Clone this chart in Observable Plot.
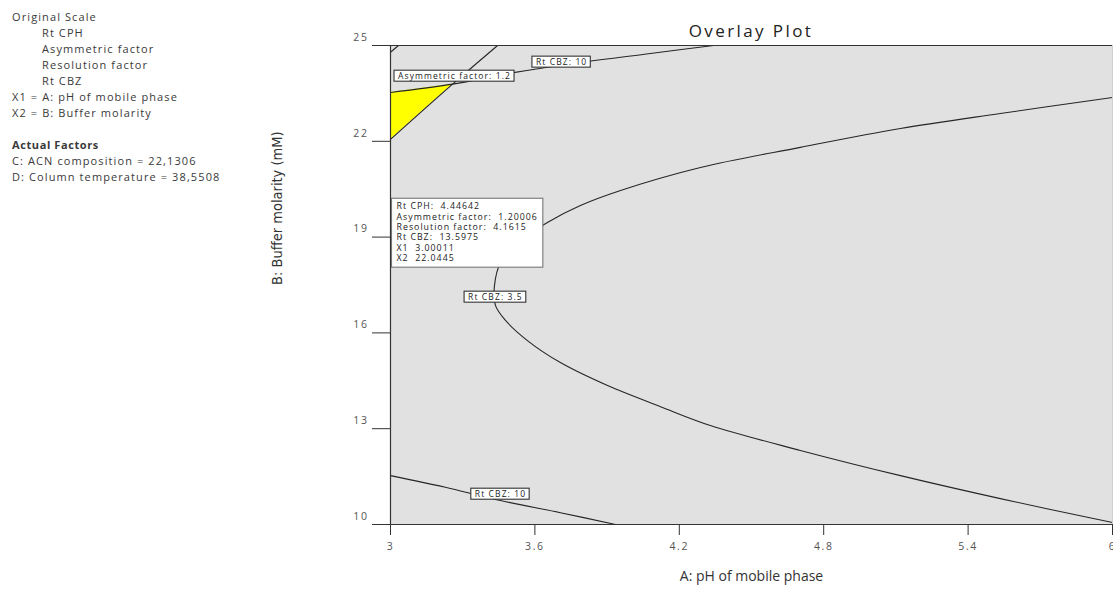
<!DOCTYPE html>
<html>
<head>
<meta charset="utf-8">
<script src="https://cdn.jsdelivr.net/npm/d3@7"></script>
<script src="https://cdn.jsdelivr.net/npm/@observablehq/plot@0.6"></script>
<style>
  html, body { margin: 0; padding: 0; background: #fff; }
  #wrap { position: relative; width: 1113px; height: 591px; overflow: hidden; font-family: "Open Sans", sans-serif; }
  #legend { position: absolute; left: 12px; top: 9px; font-size: 11px; line-height: 16px; color: #3a3a3a; letter-spacing: 1.1px; white-space: pre; }
  #legend .ind { padding-left: 30px; }
  #legend .b { font-weight: bold; letter-spacing: 0.6px; }
  #title { position: absolute; left: 390px; width: 722px; top: 20px; text-align: center; font-size: 17px; line-height: 22px; color: #222; letter-spacing: 2.4px; }
  #chart { position: absolute; left: 0; top: 0; }
  g[aria-label="x-axis tick label"] text, g[aria-label="y-axis tick label"] text { letter-spacing: 1.6px; }
</style>
</head>
<body>
<div id="wrap">
  <div id="legend"></div>
  <div id="title"></div>
  <div id="chart"></div>
</div>
<script>
// ---- Data ----
const titleText = "Overlay Plot";
const legendLines = ["Original Scale"];
const legendResponses = ["Rt CPH", "Asymmetric factor", "Resolution factor", "Rt CBZ"];
const legendAxes = ["X1 = A: pH of mobile phase", "X2 = B: Buffer molarity"];
const actualFactorsTitle = "Actual Factors";
const actualFactors = ["C: ACN composition = 22,1306", "D: Column temperature = 38,5508"];

const xLabel = "A: pH of mobile phase";
const yLabel = "B: Buffer molarity (mM)";
const xDomain = [3, 6];
const yDomain = [10, 25];
const xTicks = [3, 3.6, 4.2, 4.8, 5.4, 6];
const yTicks = [10, 13, 16, 19, 22, 25];

// Rt CBZ = 3.5 contour
const cbz35X = [6.0, 5.534, 5.119, 4.703, 4.288, 3.956, 3.789, 3.652, 3.540, 3.457, 3.432, 3.436, 3.478, 3.569, 3.706, 3.902, 4.122, 4.329, 4.703, 5.119, 5.534, 6.0];
const cbz35Y = [23.37, 22.87, 22.40, 21.81, 21.18, 20.46, 19.99, 19.46, 18.89, 18.20, 17.48, 16.86, 16.39, 15.76, 15.07, 14.35, 13.69, 13.10, 12.32, 11.53, 10.81, 10.06];
// Rt CBZ = 10 contour (upper)
const cbz10UpX = [3.0, 3.258, 3.511, 3.789, 4.080, 4.342];
const cbz10UpY = [23.53, 23.79, 24.15, 24.47, 24.75, 25.0];
// Rt CBZ = 10 contour (lower)
const cbz10LoX = [3.0, 3.249, 3.457, 3.706, 3.935];
const cbz10LoY = [11.53, 11.13, 10.75, 10.37, 10.0];
// Asymmetric factor = 1.2 contour
const asymX = [3.0, 3.258, 3.445];
const asymY = [22.06, 23.79, 25.0];
// small contour in the top-left corner
const cornerX = [3.0, 3.033];
const cornerY = [24.79, 25.0];
// feasible (yellow) design space
const yellowX = [3.0, 3.258];
const yellowLow = [22.06, 23.79];
const yellowHigh = [23.53, 23.79];

// contour labels
const labelTexts = ["Asymmetric factor: 1.2", "Rt CBZ: 10", "Rt CBZ: 3.5", "Rt CBZ: 10"];
const labelX = [3.266, 3.711, 3.436, 3.457];
const labelY = [24.03, 24.47, 17.11, 10.94];

// flag / tooltip
const flagX1 = 3.00011;
const flagX2 = 22.0445;
const tooltipLines = ["Rt CPH:  4.44642", "Asymmetric factor:  1.20006", "Resolution factor:  4.1615", "Rt CBZ:  13.5975", "X1  3.00011", "X2  22.0445"];

// ---- Build HTML text ----
const legend = document.getElementById("legend");
const addLine = (t, cls) => { const d = document.createElement("div"); d.textContent = t || "\u00a0"; if (cls) d.className = cls; legend.appendChild(d); };
legendLines.forEach(t => addLine(t));
legendResponses.forEach(t => addLine(t, "ind"));
legendAxes.forEach(t => addLine(t));
addLine("");
addLine(actualFactorsTitle, "b");
actualFactors.forEach(t => addLine(t));
document.getElementById("title").textContent = titleText;

// ---- Tables ----
const toPts = (xs, ys) => xs.map((x, i) => ({x, y: ys[i]}));
const lines = [toPts(cbz35X, cbz35Y), toPts(cbz10UpX, cbz10UpY), toPts(cbz10LoX, cbz10LoY), toPts(asymX, asymY), toPts(cornerX, cornerY)];
const yellow = yellowX.map((x, i) => ({x, y1: yellowLow[i], y2: yellowHigh[i]}));
const labels = labelTexts.map((t, i) => ({t, x: labelX[i], y: labelY[i]}));

const lineColor = "#262626";
const chart = Plot.plot({
  width: 1113,
  height: 591,
  marginLeft: 390,
  marginRight: 1,
  marginTop: 45,
  marginBottom: 67,
  style: {fontFamily: "Open Sans", background: "transparent", color: "#444"},
  x: {domain: xDomain, label: null},
  y: {domain: yDomain, label: null},
  marks: [
    Plot.frame({fill: "#e1e1e1", stroke: null}),
    Plot.areaY(yellow, {x: "x", y1: "y1", y2: "y2", fill: "#ffff00", curve: "linear"}),
    ...lines.map(pts => Plot.line(pts, {x: "x", y: "y", stroke: lineColor, strokeWidth: 1.1, curve: "catmull-rom"})),
    Plot.ruleX([xDomain[0]], {stroke: "#333", strokeWidth: 1.2}),
    Plot.ruleY([yDomain[0], yDomain[1]], {stroke: "#333", strokeWidth: 1.2}),
    Plot.ruleX([xDomain[1]], {stroke: "#cfcfcf", strokeWidth: 1}),
    Plot.axisX({ticks: xTicks, tickSize: 11, tickPadding: 7, tickFormat: d => String(d), fontSize: 10.5, stroke: "#333", fill: "#555"}),
    Plot.axisY({ticks: yTicks, tickSize: 18, tickFormat: () => "", stroke: "#333"}),
    Plot.axisY({ticks: yTicks, tickSize: 0, tickPadding: 22, dy: -8, tickFormat: d => String(d), fontSize: 10.5, fill: "#555"}),
    Plot.text(labels, {x: "x", y: "y", text: "t", fontSize: 8.5, fill: "#222"}),
    Plot.text([tooltipLines.join("\n")], {x: () => flagX1, y: () => flagX2, text: d => d, textAnchor: "start", lineAnchor: "top", dx: 6, dy: 62, fontSize: 8.8, lineHeight: 1.18, fill: "#222"}),
    Plot.text([xLabel], {frameAnchor: "bottom", dy: 56, fontSize: 14, fill: "#333"}),
    Plot.text([yLabel], {frameAnchor: "left", rotate: -90, dx: -113, fontSize: 14.5, fill: "#333", fontFamily: "DejaVu Sans Condensed, Roboto, sans-serif"})
  ]
});
document.getElementById("chart").appendChild(chart);

// boxes behind contour labels and the flag tooltip
const labelSet = new Set(labelTexts);
const tooltipKey = tooltipLines[0].replace(/\s+/g, "");
const svgNS = "http://www.w3.org/2000/svg";
function boxify(t, pad, stroke, spacing) {
  t.style.whiteSpace = "pre";
  t.style.letterSpacing = spacing;
  t.setAttributeNS("http://www.w3.org/XML/1998/namespace", "xml:space", "preserve");
  const b = t.getBBox();
  const r = document.createElementNS(svgNS, "rect");
  r.setAttribute("x", b.x - pad[3]);
  r.setAttribute("y", b.y - pad[0]);
  r.setAttribute("width", b.width + pad[1] + pad[3]);
  r.setAttribute("height", b.height + pad[0] + pad[2]);
  r.setAttribute("fill", "#ffffff");
  r.setAttribute("stroke", stroke);
  r.setAttribute("stroke-width", "1.1");
  const tr = t.getAttribute("transform");
  if (tr) r.setAttribute("transform", tr);
  t.parentNode.insertBefore(r, t);
}
Array.from(chart.querySelectorAll("text")).forEach(t => {
  const s = t.textContent;
  if (labelSet.has(s)) boxify(t, [0, 3, 0, 4], "#333", "1.1px");
  else if (s.replace(/\s+/g, "").startsWith(tooltipKey)) boxify(t, [2, 5, 3, 5], "#777", "1px");
});
</script>
</body>
</html>
